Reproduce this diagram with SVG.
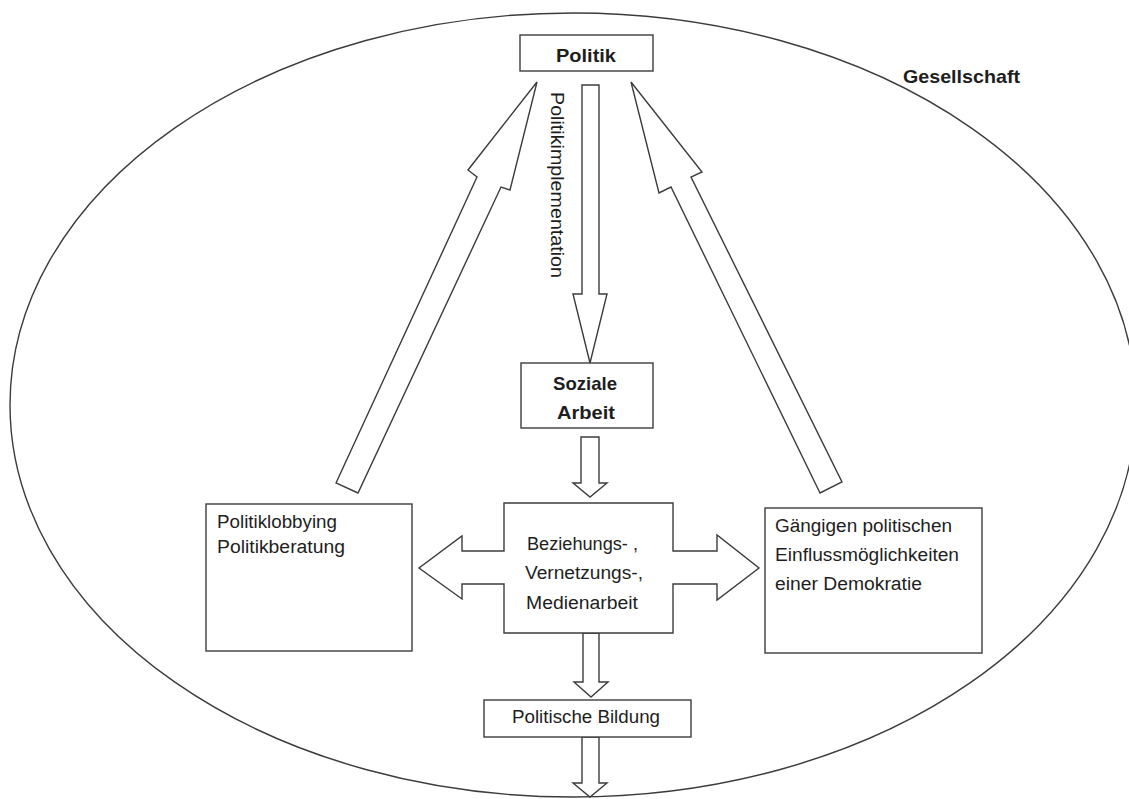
<svg xmlns="http://www.w3.org/2000/svg" width="1129" height="799" viewBox="0 0 1129 799">
<style>
.ln{fill:#fff;stroke:#3c3c3c;stroke-width:1.4;stroke-linejoin:miter}
.t{font-family:"Liberation Sans",Arial,sans-serif;font-size:18px;fill:#1e1e1e}
.b{font-family:"Liberation Sans",Arial,sans-serif;font-size:19px;font-weight:bold;fill:#1e1e1e}
.c{text-anchor:middle}
</style>
<rect width="1129" height="799" fill="#fff"/>
<g id="gesellschaft">
<ellipse cx="573" cy="405" rx="563" ry="392" fill="none" stroke="#3c3c3c" stroke-width="1.4"/>
<text class="b" x="903" y="83" textLength="117" lengthAdjust="spacingAndGlyphs">Gesellschaft</text>
</g>
<g id="connectors">
<polygon class="ln" points="582,85 599,85 599,294 607,294 590,363 573,294 582,294"/>
<polygon class="ln" points="581,437 599,437 599,483 607,483 590,497 573,483 581,483"/>
<polygon class="ln" points="583,633 599,633 599,682 608,682 591,697 574,682 583,682"/>
<polygon class="ln" points="582,737 599,737 599,783 607,783 590,797 573,783 582,783"/>
<polygon class="ln" points="336,483 477,177 468,170 537,82 510,190 501,187 358,493"/>
<polygon class="ln" points="820,493 671,187 659,193 631,82 702,172 691,177 842,482"/>
<text class="t" transform="translate(551,92) rotate(90)" textLength="186" lengthAdjust="spacingAndGlyphs">Politikimplementation</text>
</g>
<g id="politik">
<rect class="ln" x="520" y="35" width="133" height="36"/>
<text class="b c" x="586" y="62" textLength="60" lengthAdjust="spacingAndGlyphs">Politik</text>
</g>
<g id="soziale-arbeit">
<rect class="ln" x="521" y="363" width="132" height="65"/>
<text class="b c" x="585" y="390" textLength="64" lengthAdjust="spacingAndGlyphs">Soziale</text>
<text class="b c" x="586" y="419" textLength="58" lengthAdjust="spacingAndGlyphs">Arbeit</text>
</g>
<g id="beziehungsarbeit">
<polygon class="ln" points="504,503 673,503 673,551 717,551 717,535 759,568 717,600 717,584 673,584 673,633 504,633 504,584 462,584 462,599 419,568 462,536 462,551 504,551"/>
<text class="t" x="527" y="550" textLength="111" lengthAdjust="spacingAndGlyphs">Beziehungs- ,</text>
<text class="t" x="525" y="579" textLength="118" lengthAdjust="spacingAndGlyphs">Vernetzungs-,</text>
<text class="t" x="526" y="609" textLength="112" lengthAdjust="spacingAndGlyphs">Medienarbeit</text>
</g>
<g id="lobbying">
<rect class="ln" x="206" y="504" width="206" height="147"/>
<text class="t" x="217" y="528" textLength="120" lengthAdjust="spacingAndGlyphs">Politiklobbying</text>
<text class="t" x="217" y="553" textLength="128" lengthAdjust="spacingAndGlyphs">Politikberatung</text>
</g>
<g id="einfluss">
<rect class="ln" x="765" y="508" width="217" height="145"/>
<text class="t" x="775" y="532" textLength="177" lengthAdjust="spacingAndGlyphs">Gängigen politischen</text>
<text class="t" x="775" y="561" textLength="184" lengthAdjust="spacingAndGlyphs">Einflussmöglichkeiten</text>
<text class="t" x="775" y="590" textLength="147" lengthAdjust="spacingAndGlyphs">einer Demokratie</text>
</g>
<g id="politische-bildung">
<rect class="ln" x="484" y="700" width="207" height="37"/>
<text class="t" x="512" y="723" textLength="148" lengthAdjust="spacingAndGlyphs">Politische Bildung</text>
</g>
</svg>
